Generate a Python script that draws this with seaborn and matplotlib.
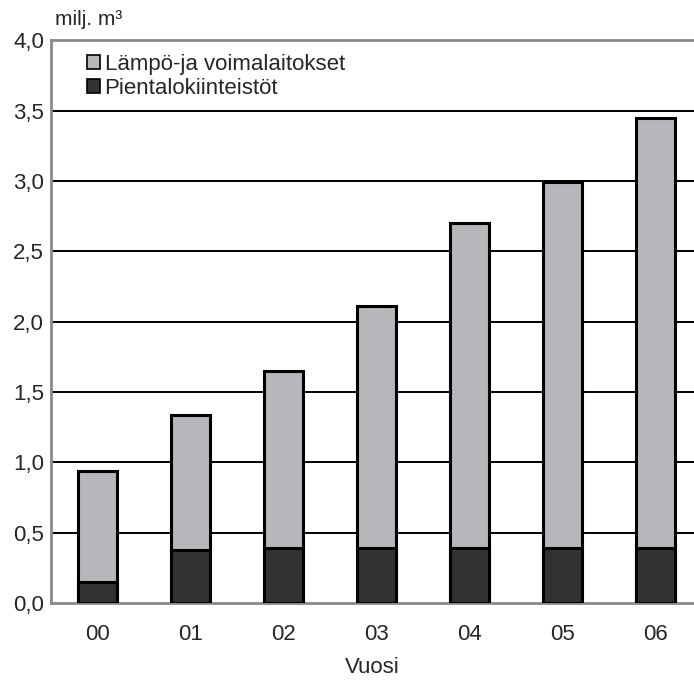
import matplotlib
matplotlib.use("Agg")
import matplotlib.pyplot as plt
from matplotlib.patches import Patch
import seaborn as sns
import pandas as pd

years = ["00", "01", "02", "03", "04", "05", "06"]
total = [0.94, 1.34, 1.65, 2.11, 2.70, 2.99, 3.45]        # Lämpö- ja voimalaitokset + pientalot
pientalot = [0.15, 0.38, 0.39, 0.39, 0.39, 0.39, 0.39]   # Pientalokiinteistöt
yticks = [0.0, 0.5, 1.0, 1.5, 2.0, 2.5, 3.0, 3.5, 4.0]

light = "#b6b7ba"
dark = "#313234"

sns.set_theme(style="white")
plt.rcParams["font.family"] = ["Liberation Sans", "DejaVu Sans"]

df = pd.DataFrame({"vuosi": years, "total": total, "pientalot": pientalot})

fig = plt.figure(figsize=(6.94, 6.83), dpi=100)
ax = fig.add_axes([0.0735, 0.117, 0.9265, 0.824])

for y in yticks[1:-1]:
    ax.axhline(y, color="black", lw=1.4, zorder=0)

sns.barplot(data=df, x="vuosi", y="total", color=light, width=0.42,
            edgecolor="black", linewidth=2.2, saturation=1, ax=ax, zorder=2)
sns.barplot(data=df, x="vuosi", y="pientalot", color=dark, width=0.42,
            edgecolor="black", linewidth=2.2, saturation=1, ax=ax, zorder=3)

ax.set_ylim(0, 4.0)
ax.set_xlim(-0.5, 6.41)
ax.set_yticks(yticks)
ax.set_yticklabels([f"{v:.1f}".replace(".", ",") for v in yticks], fontsize=16)
ax.tick_params(axis="x", labelsize=16, length=0, pad=15)
ax.tick_params(axis="y", length=0, pad=5)
ax.set_xlabel("Vuosi", fontsize=16, labelpad=9)
ax.set_ylabel("")

for side in ["left", "top", "bottom"]:
    ax.spines[side].set_color("#8a8a8a")
    ax.spines[side].set_linewidth(2.0)
ax.spines["right"].set_visible(False)

fig.text(0.079, 0.972, "milj. m³", fontsize=15, ha="left", va="center")

handles = [Patch(facecolor=light, edgecolor="black", linewidth=1.2, label="Lämpö-ja voimalaitokset"),
           Patch(facecolor=dark, edgecolor="black", linewidth=1.2, label="Pientalokiinteistöt")]
ax.legend(handles=handles, loc="upper left", bbox_to_anchor=(0.035, 1.0), frameon=False,
          fontsize=16, handlelength=0.6, handleheight=0.6, handletextpad=0.2,
          labelspacing=0.15, borderaxespad=0.2)

fig.savefig("out.png", dpi=100)
